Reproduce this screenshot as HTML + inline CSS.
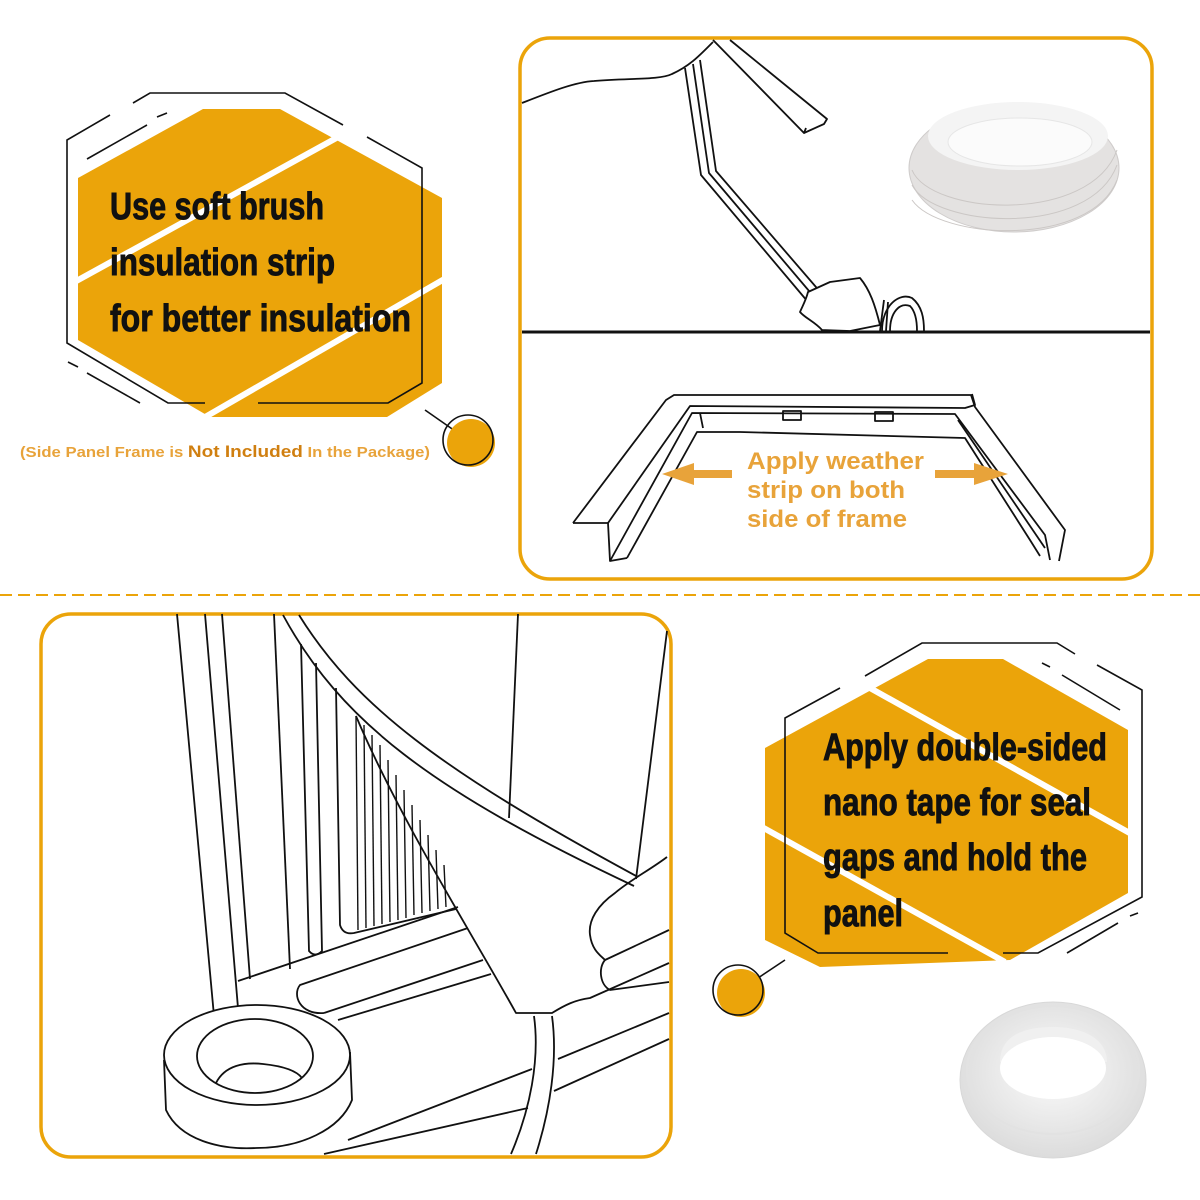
<!DOCTYPE html>
<html><head><meta charset="utf-8"><style>
html,body{margin:0;padding:0;background:#fff;}
svg{display:block;}
</style></head><body>
<svg width="1200" height="1200" viewBox="0 0 1200 1200" xmlns="http://www.w3.org/2000/svg">
<defs>
<radialGradient id="rg1" cx="50%" cy="45%" r="55%"><stop offset="0" stop-color="#fbfbfb"/><stop offset="1" stop-color="#dcdcdc"/></radialGradient>
</defs>
<rect width="1200" height="1200" fill="#fff"/>

<!-- Top-left hexagon -->
<polygon points="78,178 203,109 280,109 442,198 442,383 387,417 210,417 78,340" fill="#EBA40A"/>
<line x1="60" y1="290" x2="360" y2="125" stroke="#fff" stroke-width="6"/>
<line x1="200" y1="420" x2="460" y2="270" stroke="#fff" stroke-width="6"/>
<g fill="none" stroke="#111" stroke-width="1.6">
<polyline points="133,103 150,93 285,93 343,125"/>
<polyline points="367,137 422,168 422,383 388,403 258,403"/>
<polyline points="110,115 67,140 67,343 168,403 205,403"/>
<line x1="87" y1="159" x2="147" y2="125"/>
<line x1="157" y1="117" x2="167" y2="113"/>
<line x1="68" y1="362" x2="78" y2="367"/>
<line x1="87" y1="373" x2="140" y2="403"/>
<line x1="425" y1="410" x2="468" y2="440"/>
</g>
<g font-family="'Liberation Sans Narrow','Liberation Sans',sans-serif" font-weight="bold" font-size="38" fill="#111" stroke="#111" stroke-width="0.9">
<text x="110" y="219" textLength="214" lengthAdjust="spacingAndGlyphs">Use soft brush</text>
<text x="110" y="275" textLength="225" lengthAdjust="spacingAndGlyphs">insulation strip</text>
<text x="110" y="331" textLength="301" lengthAdjust="spacingAndGlyphs">for better insulation</text>
</g>
<circle cx="471" cy="443" r="24" fill="#EBA40A"/>
<circle cx="468" cy="440" r="25" fill="none" stroke="#111" stroke-width="1.6"/>
<text x="20" y="457" font-family="'Liberation Sans',sans-serif" font-weight="bold" font-size="14.5" fill="#E8A33A" textLength="410" lengthAdjust="spacingAndGlyphs">(Side Panel Frame is <tspan fill="#D07F10" font-size="16.5">Not Included</tspan> In the Package)</text>

<!-- Top-right panel -->
<rect x="520" y="38" width="632" height="541" rx="30" fill="none" stroke="#EBA40A" stroke-width="3.5"/>
<line x1="522" y1="332" x2="1150" y2="332" stroke="#111" stroke-width="3"/>
<g fill="none" stroke="#111" stroke-width="1.8" stroke-linejoin="round">
<path d="M522,103 C550,92 575,82 594,81 C630,78 660,80 672,74 C690,66 700,55 713,42"/>
<polyline points="685,68 701,175 808,302"/>
<polyline points="693,64 709,173 815,298"/>
<polyline points="700,60 716,171 822,294"/>
<polyline points="713,40 804,133 806,128"/>
<polyline points="730,40 827,119 824,124 804,133"/>
<path d="M808,292 L830,282 L860,278 C870,290 875,305 880,325 L850,331 L822,330 C815,322 805,318 800,312 C803,305 806,300 808,292 Z" fill="#fff"/>
<path d="M882,331 C882,305 900,292 912,298 C922,306 924,318 924,331"/>
<path d="M890,331 C890,312 900,302 910,306 C916,312 917,322 917,331"/>
<path d="M880,331 L884,300 M886,331 L888,302"/>
</g>
<!-- weather strip roll -->
<ellipse cx="1014" cy="168" rx="105" ry="64" fill="#e4e2e1" stroke="#cfcccb"/>
<ellipse cx="1018" cy="136" rx="90" ry="34" fill="#f4f4f4"/>
<ellipse cx="1020" cy="142" rx="72" ry="24" fill="#fbfbfb" stroke="#e6e6e6"/>
<g fill="none" stroke="#cbc7c5" stroke-width="1">
<path d="M912,170 C930,215 1090,225 1117,150"/>
<path d="M912,185 C935,228 1090,238 1117,165"/>
<path d="M912,200 C940,240 1090,248 1117,180"/>
</g>
<!-- frame -->
<g fill="none" stroke="#111" stroke-width="1.8" stroke-linejoin="round">
<polyline points="573,523 666,400 674,395 971,395 975,407 1065,530 1059,561"/>
<polyline points="608,523 690,406 965,408 975,405 972,394"/>
<polyline points="610,561 692,413 955,414 1045,535 1050,560"/>
<polyline points="627,558 697,432 740,432 965,438 1030,540 1040,556"/>
<polyline points="573,523 608,523 610,561 627,558"/>
<polyline points="700,413 703,428"/>
<rect x="783" y="411" width="18" height="9"/>
<rect x="875" y="412" width="18" height="9"/>
<polyline points="958,420 1045,548"/>
</g>
<g fill="#E8A33A">
<rect x="690" y="470" width="42" height="8"/>
<polygon points="662,474 694,463 694,485"/>
<rect x="935" y="470" width="42" height="8"/>
<polygon points="1008,474 974,463 974,485"/>
</g>
<g font-family="'Liberation Sans',sans-serif" font-weight="bold" font-size="24" fill="#E8A33A">
<text x="747" y="469" textLength="177" lengthAdjust="spacingAndGlyphs">Apply weather</text>
<text x="747" y="498" textLength="158" lengthAdjust="spacingAndGlyphs">strip on both</text>
<text x="747" y="527" textLength="160" lengthAdjust="spacingAndGlyphs">side of frame</text>
</g>

<!-- dashed divider -->
<line x1="0" y1="595" x2="1200" y2="595" stroke="#EBA40A" stroke-width="2" stroke-dasharray="12,6"/>

<!-- Bottom-left panel -->
<rect x="41" y="614" width="630" height="543" rx="30" fill="none" stroke="#EBA40A" stroke-width="3.5"/>
<g fill="none" stroke="#111" stroke-width="1.8" stroke-linejoin="round">
<line x1="177" y1="614" x2="214" y2="1016"/>
<line x1="205" y1="614" x2="238" y2="1008"/>
<line x1="222" y1="614" x2="250" y2="979"/>
<line x1="274" y1="614" x2="290" y2="969"/>
<path d="M301,644 L309,951 Q315,958 322,951 L316,663"/>
<path d="M336,688 L340,925 Q343,935 354,933 L456,909"/>
<g stroke-width="1.4">
<line x1="356" y1="716" x2="358" y2="930"/>
<line x1="364" y1="725" x2="366" y2="928"/>
<line x1="372" y1="735" x2="374" y2="926"/>
<line x1="380" y1="745" x2="382" y2="924"/>
<line x1="388" y1="760" x2="390" y2="922"/>
<line x1="396" y1="775" x2="398" y2="920"/>
<line x1="404" y1="790" x2="406" y2="918"/>
<line x1="412" y1="805" x2="414" y2="915"/>
<line x1="420" y1="820" x2="422" y2="913"/>
<line x1="428" y1="835" x2="430" y2="911"/>
<line x1="436" y1="850" x2="438" y2="909"/>
<line x1="444" y1="865" x2="446" y2="907"/>
</g>
<path d="M283,615 C340,720 430,790 634,886"/>
<path d="M299,615 C355,705 440,770 638,877"/>
<path d="M356,716 C400,820 470,930 516,1013 L552,1013 C565,1005 575,1000 590,998 L669,963"/>
<line x1="518" y1="614" x2="509" y2="818"/>
<line x1="667" y1="631" x2="636" y2="879"/>
<path d="M667,857 C650,870 630,880 615,893 C598,905 588,920 590,935 C592,950 600,955 605,960 C598,968 600,985 610,990 L669,982"/>
<path d="M605,960 L669,930"/>
<line x1="238" y1="981" x2="458" y2="907"/>
<path d="M324,1013 L483,960"/>
<path d="M338,1020 L491,974"/>
<path d="M324,1013 C300,1015 292,995 300,985 L468,928"/>
<line x1="558" y1="1059" x2="669" y2="1013"/>
<line x1="554" y1="1091" x2="669" y2="1039"/>
<line x1="348" y1="1140" x2="532" y2="1069"/>
<line x1="324" y1="1154" x2="528" y2="1108"/>
<path d="M534,1016 C540,1060 530,1110 511,1154"/>
<path d="M552,1016 C558,1060 550,1110 536,1154"/>
<path d="M164,1060 L166,1110 C180,1140 220,1150 256,1148 C300,1148 340,1130 352,1100 L350,1052" fill="#fff"/>
<ellipse cx="257" cy="1055" rx="93" ry="50" fill="#fff"/>
<ellipse cx="255" cy="1056" rx="58" ry="37"/>
<path d="M216,1083 C225,1065 245,1062 263,1064 C282,1066 296,1070 302,1078"/>
</g>

<!-- Bottom-right hexagon -->
<polygon points="765,748 928,659 1003,659 1128,730 1128,893 1010,960 820,967 765,940" fill="#EBA40A"/>
<line x1="870" y1="688" x2="1135" y2="836" stroke="#fff" stroke-width="6"/>
<line x1="760" y1="826" x2="1005" y2="962" stroke="#fff" stroke-width="6"/>
<g fill="none" stroke="#111" stroke-width="1.6">
<polyline points="840,688 785,718 785,933 818,953 948,953"/>
<polyline points="865,676 922,643 1057,643 1075,654"/>
<polyline points="1097,665 1142,690 1142,897 1038,953 1003,953"/>
<line x1="1042" y1="663" x2="1050" y2="667"/>
<line x1="1062" y1="675" x2="1120" y2="710"/>
<line x1="1130" y1="916" x2="1138" y2="913"/>
<line x1="1067" y1="953" x2="1118" y2="923"/>
<line x1="785" y1="960" x2="740" y2="990"/>
</g>
<g font-family="'Liberation Sans Narrow','Liberation Sans',sans-serif" font-weight="bold" font-size="38" fill="#111" stroke="#111" stroke-width="0.9">
<text x="823" y="760" textLength="284" lengthAdjust="spacingAndGlyphs">Apply double-sided</text>
<text x="823" y="815" textLength="268" lengthAdjust="spacingAndGlyphs">nano tape for seal</text>
<text x="823" y="870" textLength="264" lengthAdjust="spacingAndGlyphs">gaps and hold the</text>
<text x="823" y="926" textLength="80" lengthAdjust="spacingAndGlyphs">panel</text>
</g>
<circle cx="741" cy="993" r="24" fill="#EBA40A"/>
<circle cx="738" cy="990" r="25" fill="none" stroke="#111" stroke-width="1.6"/>

<!-- nano tape roll -->
<ellipse cx="1053" cy="1080" rx="93" ry="78" fill="url(#rg1)" stroke="#d8d8d8"/>
<ellipse cx="1053" cy="1070" rx="86" ry="64" fill="none" stroke="#e2e2e2" stroke-width="2"/>
<path d="M1000,1062 C1000,1035 1025,1027 1053,1027 C1085,1027 1107,1040 1107,1062" fill="#f0f0f0"/>
<ellipse cx="1053" cy="1068" rx="53" ry="31" fill="#fff"/>
</svg>
</body></html>
